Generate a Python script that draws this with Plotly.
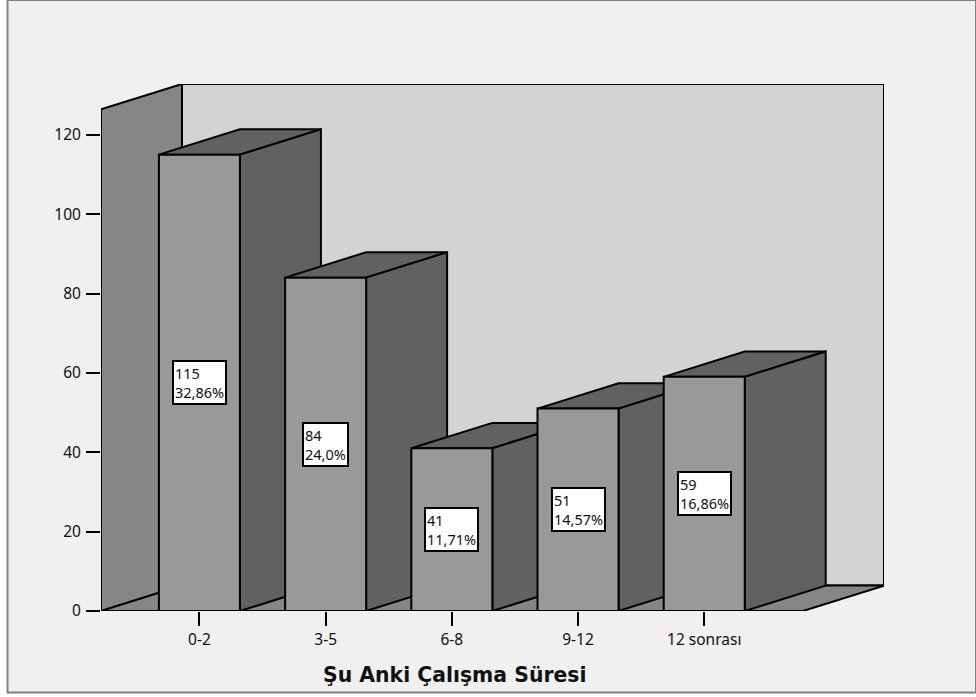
import plotly.graph_objects as go

categories = ["0-2", "3-5", "6-8", "9-12", "12 sonrası"]
counts = [115, 84, 41, 51, 59]
percent_labels = ["32,86%", "24,0%", "11,71%", "14,57%", "16,86%"]
y_ticks = [0, 20, 40, 60, 80, 100, 120]
x_title = "Şu Anki Çalışma Süresi"

FONT = "Noto Sans"
WALL_TOP = 126.4
DEPTH_X = 0.6416
DEPTH_Y = 6.4
HALF = 0.321
X_L, X_R = -0.78, 4.783
BACK_C, SIDE_C, BAR_C, BAR_DARK = "#d3d3d3", "#868686", "#999999", "#616161"
LW = 2

fig = go.Figure()


def poly(xs, ys, color):
    fig.add_trace(go.Scatter(
        x=xs + xs[:1], y=ys + ys[:1], mode="lines", fill="toself",
        fillcolor=color, line=dict(color="black", width=LW, simplify=False),
        hoverinfo="skip", showlegend=False, cliponaxis=False))


dx, dy = DEPTH_X, DEPTH_Y
# back wall
poly([X_L + dx, X_R + dx, X_R + dx, X_L + dx], [dy, dy, WALL_TOP + dy, WALL_TOP + dy], BACK_C)
# left wall
poly([X_L, X_L + dx, X_L + dx, X_L], [0, dy, WALL_TOP + dy, WALL_TOP], SIDE_C)
# floor
poly([X_L, X_R, X_R + dx, X_L + dx], [0, 0, dy, dy], SIDE_C)

for i, v in enumerate(counts):
    l, r = i - HALF, i + HALF
    poly([l, r, r + dx, l + dx], [v, v, v + dy, v + dy], BAR_DARK)
    poly([r, r + dx, r + dx, r], [0, dy, v + dy, v], BAR_DARK)
    poly([l, r, r, l], [0, 0, v, v], BAR_C)

annotations = [
    dict(x=i, y=v / 2, xref="x", yref="y", text=f"{v}<br>{p}", showarrow=False,
         align="left", bgcolor="white", bordercolor="black", borderwidth=2,
         borderpad=1, font=dict(family=FONT, size=14.5, color="#111111"))
    for i, (v, p) in enumerate(zip(counts, percent_labels))
]
annotations.append(dict(x=2.02, y=0, xref="x", yref="paper", yanchor="middle", yshift=-64,
                        text=f"<b>{x_title}</b>", showarrow=False,
                        font=dict(family="DejaVu Sans", size=20.4, color="#111111")))

frame = dict(type="rect", xref="paper", yref="paper", layer="below",
             x0=(7.5 - 101) / 783, x1=(976 - 101) / 783,
             y0=(611 - 692.5) / 527, y1=(611 - 0) / 527,
             fillcolor="#f0f0f0", line=dict(color="#808080", width=2))

fig.update_layout(
    width=976, height=697, autosize=False,
    margin=dict(l=101, r=92, t=84, b=86, pad=0),
    paper_bgcolor="white", plot_bgcolor="rgba(0,0,0,0)",
    showlegend=False, shapes=[frame], annotations=annotations,
    font=dict(family=FONT, size=15.5, color="#111111"),
    xaxis=dict(range=[X_L, X_R + dx], tickmode="array", tickvals=list(range(len(categories))),
               ticktext=categories, ticks="outside", ticklen=14, tickwidth=1.5, tickcolor="black",
               showgrid=False, zeroline=False, showline=False),
    yaxis=dict(range=[0, WALL_TOP + dy], tickmode="array", tickvals=y_ticks, ticks="outside",
               ticklen=14, tickwidth=2, tickcolor="black", showgrid=False, zeroline=False,
               showline=False, ticklabelstandoff=2),
)

fig.write_html("out.html", config={"displayModeBar": False},
               post_script="document.body.style.margin='0';document.body.style.overflow='hidden';")
